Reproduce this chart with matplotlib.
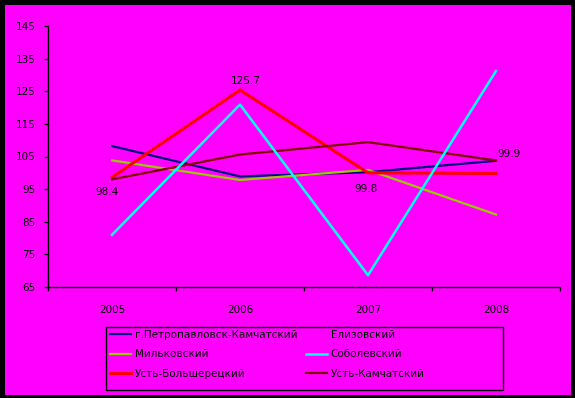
import matplotlib
matplotlib.use("Agg")
import matplotlib.pyplot as plt
from matplotlib.patches import Rectangle

years = ["2005", "2006", "2007", "2008"]
petropavlovsk = [108.2, 98.9, 100.2, 103.7]
elizovsky = [98.4, 125.7, 99.8, 99.9]
milkovsky = [103.8, 97.8, 100.9, 87.2]
sobolevsky = [81.0, 120.9, 68.6, 131.2]
ust_bolsheretsky = [98.6, 125.4, 100.0, 99.8]
ust_kamchatsky = [98.0, 105.6, 109.4, 103.8]
y_ticks = [65, 75, 85, 95, 105, 115, 125, 135, 145]

W, H = 575, 398
fig = plt.figure(figsize=(W / 100, H / 100), dpi=100)
fig.patch.set_facecolor("black")
bg = Rectangle((5 / W, 3 / H), 566 / W, 390 / H, transform=fig.transFigure,
               facecolor="#FF00FF", edgecolor="none", zorder=-10)
fig.patches.append(bg)

ax_l, ax_r, ax_t, ax_b = 48, 560, 26, 287
ax = fig.add_axes([ax_l / W, 1 - ax_b / H, (ax_r - ax_l) / W, (ax_b - ax_t) / H])
ax.set_facecolor("#FF00FF")

x = list(range(len(years)))
ax.plot(x, elizovsky, color="#FF00FF", lw=1.4, label="Елизовский", zorder=1)
ax.plot(x, petropavlovsk, color="#000080", lw=1.6, label="г.Петропавловск-Камчатский", zorder=3)
ax.plot(x, milkovsky, color="#99CC00", lw=1.6, label="Мильковский", zorder=3)
ax.plot(x, sobolevsky, color="#00FFFF", lw=1.8, label="Соболевский", zorder=4)
ax.plot(x, ust_bolsheretsky, color="#FF0000", lw=2.2, label="Усть-Большерецкий", zorder=3)
ax.plot(x, ust_kamchatsky, color="#800000", lw=1.6, label="Усть-Камчатский", zorder=3)

offsets = [(-5, -14), (6, 8), (-2, -16), (13, 19)]
for xi, v, (dx, dy) in zip(x, elizovsky, offsets):
    ax.annotate(f"{v}", (xi, v), xytext=(dx * 0.72, dy * 0.72), textcoords="offset points",
                ha="center", va="center", fontsize=7.5, color="black")

ax.set_ylim(65, 145)
ax.set_xlim(-0.5, len(years) - 0.5)
ax.set_yticks(y_ticks)
ax.set_yticklabels([str(t) for t in y_ticks])
ax.set_xticks([i - 0.5 for i in range(len(years) + 1)])
ax.set_xticklabels([])
ax.set_xticks(x, minor=True)
ax.set_xticklabels(years, minor=True)
ax.tick_params(axis="x", which="major", length=3, width=1, direction="out", color="black")
ax.tick_params(axis="x", which="minor", length=0, pad=13, labelsize=7.5, colors="black")
ax.tick_params(axis="y", length=3, width=1, direction="out", pad=6, labelsize=7.5, colors="black")
for s in ["top", "right"]:
    ax.spines[s].set_visible(False)
for s in ["left", "bottom"]:
    ax.spines[s].set_color("black")
    ax.spines[s].set_linewidth(1)

# legend frame (Excel style, wider than its content)
fig.patches.append(Rectangle((106 / W, 1 - 390 / H), (503 - 106) / W, (390 - 327) / H,
                             transform=fig.transFigure, facecolor="none",
                             edgecolor="black", lw=1, zorder=5))

handles, labels = ax.get_legend_handles_labels()
order = ["г.Петропавловск-Камчатский", "Мильковский", "Усть-Большерецкий",
         "Елизовский", "Соболевский", "Усть-Камчатский"]
hmap = dict(zip(labels, handles))
leg = fig.legend([hmap[o] for o in order], order, ncol=2, loc="upper left",
                 bbox_to_anchor=(110 / W, 1 - 330 / H),
                 frameon=False, fontsize=7.5, handlelength=2.0, handletextpad=0.4,
                 columnspacing=0.8, labelspacing=0.9, borderpad=0.0, borderaxespad=0.0)

fig.savefig("out.png", dpi=100, facecolor=fig.get_facecolor())
